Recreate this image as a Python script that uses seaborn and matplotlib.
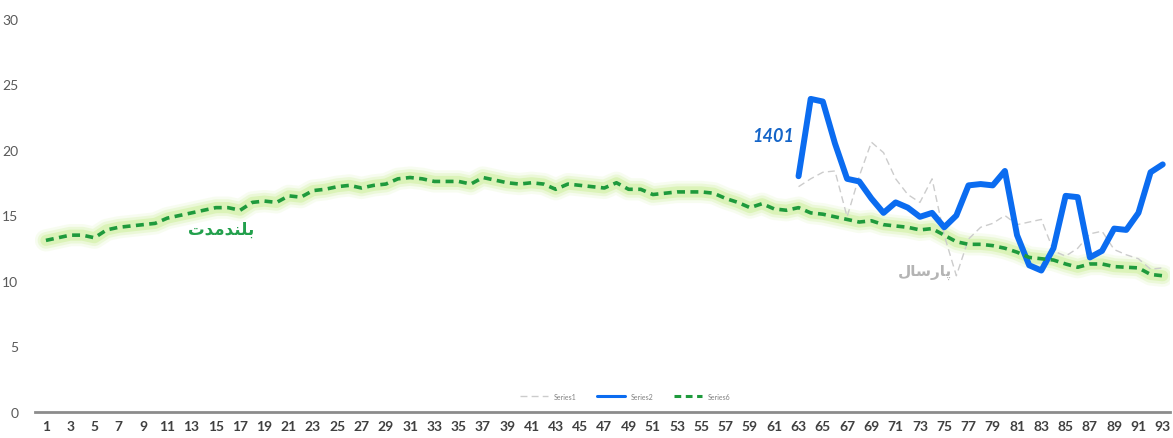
import numpy as np
import pandas as pd
import matplotlib
matplotlib.use("Agg")
import matplotlib.pyplot as plt
import seaborn as sns

# data
days = list(range(1, 94))

long_term = [
    13.1, 13.3, 13.5, 13.5, 13.3, 13.9, 14.1, 14.2, 14.3, 14.4,
    14.8, 15.0, 15.2, 15.4, 15.6, 15.6, 15.4, 16.0, 16.1, 16.0,
    16.5, 16.4, 16.9, 17.0, 17.2, 17.3, 17.1, 17.3, 17.4, 17.8,
    17.9, 17.8, 17.6, 17.6, 17.6, 17.4, 17.9, 17.7, 17.5, 17.4,
    17.5, 17.4, 17.0, 17.4, 17.3, 17.2, 17.1, 17.5, 17.0, 17.0,
    16.6, 16.7, 16.8, 16.8, 16.8, 16.7, 16.3, 16.0, 15.6, 15.9,
    15.5, 15.4, 15.6, 15.2, 15.1, 14.9, 14.7, 14.5, 14.6, 14.3,
    14.2, 14.1, 13.9, 14.0, 13.5, 13.0, 12.8, 12.8, 12.7, 12.5,
    12.2, 11.8, 11.7, 11.6, 11.3, 11.05, 11.3, 11.3, 11.1, 11.05,
    11.0, 10.5, 10.4,
]

recent_days = list(range(63, 94))

series2 = [
    18.0, 23.9, 23.7, 20.5, 17.8, 17.6, 16.3, 15.2, 16.0, 15.6,
    14.9, 15.2, 14.1, 15.0, 17.3, 17.4, 17.3, 18.4, 13.5, 11.2,
    10.8, 12.5, 16.5, 16.4, 11.8, 12.3, 14.0, 13.9, 15.2, 18.3,
    18.9,
]

series1 = [
    17.2, 17.8, 18.3, 18.4, 14.9, 18.0, 20.6, 19.8, 17.8, 16.6,
    16.0, 17.8, 13.5, 10.4, 13.2, 14.1, 14.4, 15.0, 14.3, 14.5,
    14.7, 12.3, 11.9, 12.5, 13.6, 13.8, 12.4, 12.0, 11.7, 10.9,
    11.0,
]

x_ticks = list(range(1, 94, 2))
y_ticks = [0, 5, 10, 15, 20, 25, 30]

df_long = pd.DataFrame({"day": days, "value": long_term})
df_recent = pd.DataFrame({"day": recent_days, "s1": series1, "s2": series2})

sns.set_theme(style="white")
plt.rcParams.update({
    "font.family": ["Lato", "DejaVu Sans"],
    "axes.facecolor": "white",
    "figure.facecolor": "white",
})

fig = plt.figure(figsize=(11.73, 4.39), dpi=100)
ax = fig.add_axes([35 / 1173, 26 / 439, 1135 / 1173, 393 / 439])

# glow under the long-term line
for lw, a in [(16, 0.10), (12, 0.18), (8, 0.30)]:
    sns.lineplot(data=df_long, x="day", y="value", ax=ax, color="#b9e86e",
                 lw=lw, alpha=a, solid_capstyle="round", solid_joinstyle="round")

sns.lineplot(data=df_recent, x="day", y="s1", ax=ax, color="#cccccc", lw=1.0,
             linestyle=(0, (5, 3)), label="Series1")
sns.lineplot(data=df_recent, x="day", y="s2", ax=ax, color="#0b6cf0", lw=4.3,
             solid_capstyle="round", solid_joinstyle="round", label="Series2")
sns.lineplot(data=df_long, x="day", y="value", ax=ax, color="#1e9a3c", lw=2.6,
             linestyle=(0, (2.2, 1.5)), label="Series6")

ax.set_xlim(0.1, 93.6)
ax.set_ylim(0, 30)
ax.set_xticks(x_ticks)
ax.set_yticks(y_ticks)
ax.set_xlabel("")
ax.set_ylabel("")
ax.tick_params(axis="both", length=0, labelsize=10, colors="#595959")
ax.tick_params(axis="x", pad=6)
ax.tick_params(axis="y", pad=12)
for lab in ax.get_xticklabels():
    lab.set_fontweight("bold")
    lab.set_color("#404040")

for side in ["top", "right", "left"]:
    ax.spines[side].set_visible(False)
ax.spines["bottom"].set_color("#8c8c8c")
ax.spines["bottom"].set_linewidth(2.0)

# annotations
ax.text(60.9, 21.1, "1401", color="#1565c8", fontsize=13, fontweight="bold",
        fontstyle="italic", ha="center", va="center")
ax.text(15.4, 14.0, "\ufe95\ufeaa\ufee3\ufeaa\ufee8\ufee0\ufe91", color="#22a04c",
        fontsize=12, fontweight="bold", ha="center", va="center",
        family=["DejaVu Sans"])
ax.text(73.4, 10.7, "\ufedd\ufe8e\ufeb3\ufead\ufe8e\ufb58", color="#b4b4b4",
        fontsize=11, fontweight="bold", ha="center", va="center",
        family=["DejaVu Sans"])

leg = ax.legend(loc="lower center", bbox_to_anchor=(0.52, 0.015), ncol=3,
                frameon=False, fontsize=5, handlelength=4, columnspacing=3)
for t in leg.get_texts():
    t.set_color("#808080")
for h in leg.get_lines():
    h.set_linewidth(min(h.get_linewidth(), 2.2))

fig.savefig("out.png", dpi=100, facecolor="white")
